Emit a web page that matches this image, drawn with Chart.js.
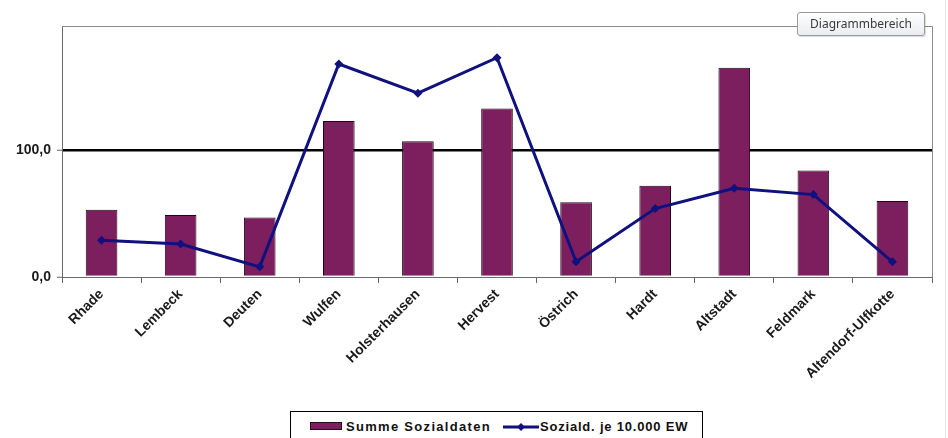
<!DOCTYPE html>
<html>
<head>
<meta charset="utf-8">
<script src="https://cdn.jsdelivr.net/npm/chart.js@4/dist/chart.umd.min.js"></script>
<style>
  html, body { margin: 0; padding: 0; background: #fff; }
  #wrap { position: relative; width: 948px; height: 438px; overflow: hidden; }
  #chart { position: absolute; left: 0; top: 0; }
  #tip {
    position: absolute; left: 797px; top: 12px; width: 126px; height: 22px;
    border: 1px solid #9a9a9a; border-radius: 3px;
    background: linear-gradient(#ffffff, #e9ecf1);
    font: 12px "Noto Sans", "DejaVu Sans", sans-serif; color: #3a3a3a;
    line-height: 22px; text-align: center; box-shadow: 1px 1px 1px rgba(0,0,0,0.15);
  }
  #legend {
    position: absolute; left: 290px; top: 411px; width: 413px; height: 40px;
    border: 1px solid #000; background: #fff; box-sizing: border-box;
    font: bold 13px "Liberation Sans", Arial, sans-serif; color: #111; letter-spacing: 0.8px;
  }
  #legend .item { position: absolute; top: 7px; height: 16px; line-height: 16px; white-space: nowrap; }
  #legend .swatch { display: inline-block; width: 32px; height: 8px; background: #7d1f5e; border: 1px solid #2a0a1e; vertical-align: 1px; margin-right: 4px; box-sizing: border-box; }
  #legend svg { vertical-align: -1px; margin-right: 1px; }
  #edge { position: absolute; left: 945px; top: 0; width: 1px; height: 438px; background: #e4e4e4; }
</style>
</head>
<body>
<div id="wrap">
  <canvas id="chart" width="948" height="438"></canvas>
  <div id="tip">Diagrammbereich</div>
  <div id="legend">
    <div class="item" style="left:19px; letter-spacing:1.3px"><span class="swatch"></span>Summe Sozialdaten</div>
    <div class="item" style="left:212px"><svg width="36" height="10"><line x1="0" y1="5" x2="36" y2="5" stroke="#10107f" stroke-width="3"/><polygon points="18,1 22,5 18,9 14,5" fill="#10107f"/></svg>Soziald. je 10.000 EW</div>
  </div>
  <div id="edge"></div>
</div>
<script>
// Ortsteile und Kennzahlen
const categories = ['Rhade', 'Lembeck', 'Deuten', 'Wulfen', 'Holsterhausen', 'Hervest',
                    'Östrich', 'Hardt', 'Altstadt', 'Feldmark', 'Altendorf-Ulfkotte'];
const summeSozialdaten = [53, 49, 47, 123, 107, 133, 59, 72, 165, 84, 60];
const sozialdJe10000EW = [29, 26, 8, 168, 145, 173, 12, 54, 70, 65, 12];
const yTickValues = [0, 100];
const yMax = 198;

const barColor = '#7d1f5e';
const lineColor = '#10107f';
const labelFont = { family: '"Liberation Sans", Arial, sans-serif', size: 14, weight: 'bold' };

// Grauer Rahmen oben und rechts um die Zeichenfläche
const frame = {
  id: 'frame',
  beforeDatasetsDraw(chart) {
    const { ctx, chartArea: a } = chart;
    ctx.save();
    ctx.strokeStyle = '#8a8a8a';
    ctx.lineWidth = 1;
    ctx.beginPath();
    ctx.moveTo(a.left, a.top + 0.5);
    ctx.lineTo(a.right + 0.5, a.top + 0.5);
    ctx.lineTo(a.right + 0.5, a.bottom);
    ctx.stroke();
    ctx.restore();
  }
};

new Chart(document.getElementById('chart'), {
  data: {
    labels: categories,
    datasets: [
      {
        type: 'line',
        label: 'Soziald. je 10.000 EW',
        data: sozialdJe10000EW,
        borderColor: lineColor,
        backgroundColor: lineColor,
        borderWidth: 3,
        tension: 0,
        pointStyle: 'rectRot',
        pointRadius: 4.5,
        pointBorderWidth: 0,
        order: 0
      },
      {
        type: 'bar',
        label: 'Summe Sozialdaten',
        data: summeSozialdaten,
        backgroundColor: barColor,
        borderColor: '#1e0715',
        borderWidth: 1,
        borderSkipped: 'bottom',
        categoryPercentage: 1,
        barPercentage: 0.4,
        order: 1
      }
    ]
  },
  options: {
    responsive: false,
    animation: false,
    events: [],
    layout: { padding: { left: 0, top: 26, right: 16, bottom: 0 } },
    plugins: { legend: { display: false }, tooltip: { enabled: false } },
    scales: {
      x: {
        offset: true,
        afterFit(scale) { scale.height = 161; },
        grid: { display: true, drawOnChartArea: false, offset: true, tickLength: 6, color: '#666', lineWidth: 1 },
        border: { display: true, color: '#6a6a6a', width: 1 },
        ticks: { font: labelFont, color: '#1a1a1a', minRotation: 45, maxRotation: 45, padding: 3 }
      },
      y: {
        min: 0,
        max: yMax,
        afterFit(scale) { scale.width = 62; },
        afterBuildTicks(scale) { scale.ticks = yTickValues.map(v => ({ value: v })); },
        grid: {
          drawOnChartArea: true,
          color: c => (c.tick && c.tick.value === 100) ? '#000' : 'rgba(0,0,0,0)',
          lineWidth: 2.5,
          drawTicks: true,
          tickLength: 5,
          tickColor: '#666',
          tickWidth: 1
        },
        border: { display: true, color: '#6a6a6a', width: 1 },
        ticks: {
          font: labelFont,
          color: '#1a1a1a',
          padding: 6,
          callback: v => v.toFixed(1).replace('.', ',')
        }
      }
    }
  },
  plugins: [frame]
});
</script>
</body>
</html>
